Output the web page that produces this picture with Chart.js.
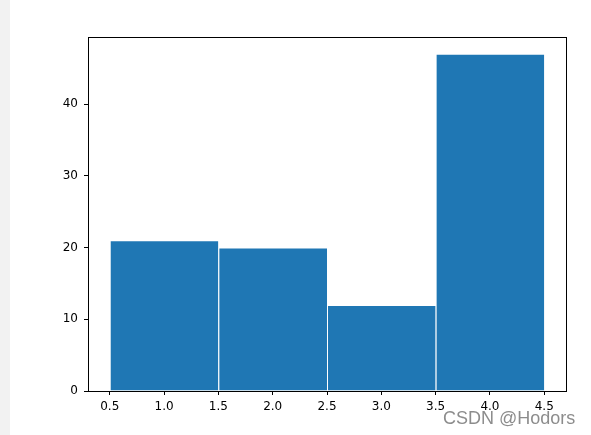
<!DOCTYPE html>
<html>
<head>
<meta charset="utf-8">
<script src="https://cdn.jsdelivr.net/npm/chart.js@4"></script>
<style>
  html, body { margin: 0; padding: 0; background: #f2f2f2; }
  #wrap { position: absolute; left: 10px; top: 0; width: 581px; height: 435px; background: #fff; }
  #mark { position: absolute; left: 433px; top: 408px; font: 18px "Liberation Sans", Arial, sans-serif; color: rgba(120,120,120,0.85); white-space: nowrap; }
</style>
</head>
<body>
<div id="wrap">
  <canvas id="hist" width="581" height="435"></canvas>
  <div id="mark">CSDN @Hodors</div>
</div>
<script>
// histogram bins (centres) and counts
const binCenters = [1, 2, 3, 4];
const counts = [21, 20, 12, 47];
const xTicks = [0.5, 1.0, 1.5, 2.0, 2.5, 3.0, 3.5, 4.0, 4.5];
const yTicks = [0, 10, 20, 30, 40];

const BLUE = '#1f77b4';

const frame = {
    id: 'frame',
    afterDraw(chart) {
        const { ctx, chartArea: a } = chart;
        ctx.save();
        ctx.strokeStyle = '#000';
        ctx.lineWidth = 1;
        ctx.strokeRect(Math.round(a.left) + 0.5, Math.round(a.top) + 0.5,
            Math.round(a.right - a.left), Math.round(a.bottom - a.top));
        ctx.restore();
    }
};

const data = {
    datasets: [{
        label: 'count',
        data: binCenters.map((x, i) => ({ x: x, y: counts[i] })),
        backgroundColor: BLUE,
        borderColor: 'rgba(255,255,255,0.7)',
        borderWidth: { left: 1, top: 1, right: 0, bottom: 0 },
        borderSkipped: false,
        // ticks every 0.5 make the ruler's min gap half a bin, so double it
        barPercentage: 1,
        categoryPercentage: 2,
    }]
};

const tickFont = { family: 'DejaVu Sans', size: 12 };

const config = {
    type: 'bar',
    data: data,
    options: {
        responsive: false,
        animation: false,
        layout: { padding: { left: 0, right: 25, top: 37, bottom: 0 } },
        plugins: { legend: { display: false }, tooltip: { enabled: false } },
        scales: {
            x: {
                type: 'linear',
                min: 0.3,
                max: 4.7,
                offset: false,
                grid: { offset: false, drawOnChartArea: false, tickLength: 4, color: '#000', tickWidth: 1 },
                border: { display: false },
                ticks: { color: '#000', font: tickFont, padding: 5, maxRotation: 0,
                    callback: (v) => v.toFixed(1) },
                afterBuildTicks: (s) => { s.ticks = xTicks.map(v => ({ value: v })); },
                afterFit: (s) => { s.height = 44; }
            },
            y: {
                min: 0,
                max: 49.35,
                grid: { drawOnChartArea: false, tickLength: 4, color: '#000', tickWidth: 1 },
                border: { display: false },
                ticks: { color: '#000', font: tickFont, padding: 6 },
                afterBuildTicks: (s) => { s.ticks = yTicks.map(v => ({ value: v })); },
                afterFit: (s) => { s.width = 78; }
            }
        }
    },
    plugins: [frame]
};

new Chart(document.getElementById('hist'), config);
</script>
</body>
</html>
